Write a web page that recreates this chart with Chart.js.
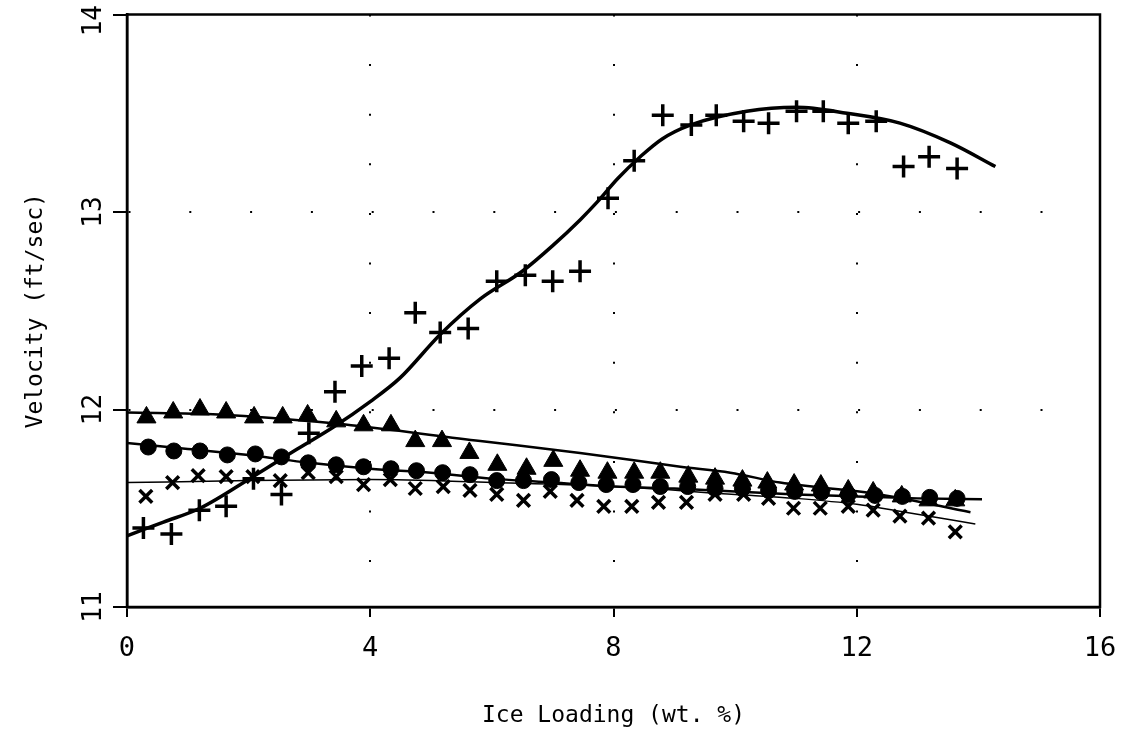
<!DOCTYPE html>
<html>
<head>
<meta charset="utf-8">
<script src="https://cdn.jsdelivr.net/npm/chart.js@4.4.1/dist/chart.umd.min.js"></script>
<style>
  html, body { margin: 0; padding: 0; background: #fff; }
  canvas { display: block; }
</style>
</head>
<body>
<canvas id="chart" width="1121" height="747"></canvas>
<script>
// Velocity vs ice loading: four measured series with fitted curves.

const xTickValues = [0, 4, 8, 12, 16];
const yTickValues = [11, 12, 13, 14];

// "+" series
const plusX = [0.27, 0.73, 1.19, 1.63, 2.08, 2.54, 2.99, 3.42, 3.86, 4.31, 4.74, 5.15, 5.61, 6.08, 6.55, 7.00,
  7.45, 7.91, 8.34, 8.81, 9.28, 9.69, 10.14, 10.55, 11.01, 11.45, 11.86, 12.32, 12.77, 13.19, 13.65];
const plusY = [11.40, 11.37, 11.49, 11.51, 11.65, 11.57, 11.88, 12.09, 12.22, 12.26, 12.49, 12.39, 12.41, 12.65, 12.68, 12.65,
  12.70, 13.07, 13.26, 13.49, 13.44, 13.49, 13.46, 13.45, 13.51, 13.51, 13.45, 13.46, 13.23, 13.28, 13.22];

// triangle series
const triX = [0.32, 0.76, 1.20, 1.63, 2.09, 2.56, 2.97, 3.44, 3.89, 4.34, 4.74, 5.18, 5.63, 6.09, 6.57, 7.01,
  7.45, 7.90, 8.34, 8.77, 9.23, 9.67, 10.12, 10.53, 10.97, 11.41, 11.86, 12.27, 12.74, 13.18, 13.62];
const triY = [11.96, 11.985, 12.00, 11.985, 11.96, 11.96, 11.97, 11.94, 11.92, 11.92, 11.84, 11.84, 11.78, 11.72, 11.70, 11.74,
  11.69, 11.68, 11.68, 11.68, 11.66, 11.65, 11.64, 11.63, 11.62, 11.615, 11.59, 11.58, 11.56, 11.54, 11.54];

// circle series
const circX = [0.35, 0.77, 1.20, 1.65, 2.11, 2.54, 2.98, 3.44, 3.89, 4.34, 4.76, 5.19, 5.64, 6.08, 6.52, 6.98,
  7.43, 7.88, 8.32, 8.77, 9.22, 9.67, 10.12, 10.55, 10.98, 11.42, 11.86, 12.30, 12.75, 13.20, 13.65];
const circY = [11.81, 11.79, 11.79, 11.77, 11.775, 11.76, 11.73, 11.72, 11.71, 11.70, 11.69, 11.68, 11.67, 11.64, 11.64, 11.645,
  11.63, 11.62, 11.62, 11.61, 11.61, 11.60, 11.60, 11.59, 11.585, 11.58, 11.57, 11.565, 11.56, 11.555, 11.55];

// "x" series
const crossX = [0.31, 0.75, 1.17, 1.63, 2.07, 2.52, 2.98, 3.44, 3.89, 4.33, 4.74, 5.20, 5.64, 6.08, 6.52, 6.96,
  7.40, 7.84, 8.30, 8.74, 9.20, 9.67, 10.14, 10.55, 10.96, 11.40, 11.86, 12.27, 12.71, 13.18, 13.62];
const crossY = [11.56, 11.63, 11.665, 11.66, 11.66, 11.64, 11.68, 11.66, 11.62, 11.645, 11.60, 11.61, 11.59, 11.57, 11.54, 11.585,
  11.54, 11.51, 11.51, 11.53, 11.53, 11.57, 11.57, 11.55, 11.50, 11.50, 11.51, 11.49, 11.46, 11.45, 11.38];

// fitted curves
const plusFitX = [0, 0.6, 1.2, 2.07, 2.8, 3.39, 4.0, 4.49, 5.15, 5.81, 6.5, 7.0, 7.45, 7.73, 8.07, 8.44,
  8.8, 9.26, 10.19, 11.01, 11.84, 12.71, 13.54, 14.28];
const plusFitY = [11.36, 11.43, 11.50, 11.66, 11.80, 11.91, 12.04, 12.16, 12.38, 12.56, 12.70, 12.83, 12.96, 13.05, 13.17, 13.28,
  13.37, 13.44, 13.51, 13.53, 13.50, 13.45, 13.35, 13.23];

const triFitX = [0, 1.5, 3.39, 5.81, 7.45, 9.10, 9.92, 10.74, 12.38, 13.87];
const triFitY = [11.985, 11.975, 11.93, 11.84, 11.78, 11.71, 11.68, 11.63, 11.57, 11.48];

const circFitX = [0, 1, 2, 3, 4, 5, 6, 7, 8, 9, 10, 11, 12, 13, 14.06];
const circFitY = [11.83, 11.80, 11.77, 11.73, 11.70, 11.68, 11.65, 11.63, 11.61, 11.60, 11.585, 11.57, 11.56, 11.55, 11.545];

const crossFitX = [0, 2, 4, 6, 8, 10, 11, 12, 12.8, 13.95];
const crossFitY = [11.63, 11.64, 11.645, 11.63, 11.61, 11.57, 11.55, 11.52, 11.48, 11.42];

const MONO = '"DejaVu Sans Mono", "Liberation Mono", monospace';
const INK = '#000';
const NONE = 'rgba(0,0,0,0)';

const pts = (xs, ys) => xs.map((x, i) => ({ x, y: ys[i] }));

function markers(xs, ys, style, radius, width) {
  return {
    type: 'scatter',
    data: pts(xs, ys),
    showLine: false,
    pointStyle: style,
    pointRadius: radius,
    pointBorderWidth: width,
    pointBorderColor: INK,
    pointBackgroundColor: INK,
  };
}

function curve(xs, ys, width) {
  return {
    type: 'line',
    data: pts(xs, ys),
    borderColor: INK,
    borderWidth: width,
    pointRadius: 0,
    fill: false,
    cubicInterpolationMode: 'monotone',
  };
}

// Closes the plot box and draws the rotated y tick labels (kept inside the canvas)
const frameAndLabels = {
  id: 'frameAndLabels',
  afterDraw(chart) {
    const { ctx, chartArea: a, scales: { y } } = chart;
    ctx.save();
    ctx.strokeStyle = INK;
    ctx.lineWidth = 2.5;
    ctx.strokeRect(a.left, a.top, a.right - a.left, a.bottom - a.top);
    ctx.font = '26px ' + MONO;
    ctx.fillStyle = INK;
    ctx.textAlign = 'center';
    ctx.textBaseline = 'middle';
    y.ticks.forEach(t => {
      const w = ctx.measureText(t.label).width;
      const py = Math.max(y.getPixelForValue(t.value), w / 2 + 5);
      ctx.save();
      ctx.translate(a.left - 33, py);
      ctx.rotate(-Math.PI / 2);
      ctx.fillText(t.label, 0, 0);
      ctx.restore();
    });
    ctx.restore();
  },
};

new Chart(document.getElementById('chart'), {
  data: {
    datasets: [
      markers(plusX, plusY, 'cross', 11, 3.5),
      markers(circX, circY, 'circle', 8, 1),
      markers(triX, triY, 'triangle', 11, 1),
      markers(crossX, crossY, 'crossRot', 9, 3.5),
      curve(plusFitX, plusFitY, 3.5),
      curve(triFitX, triFitY, 2.5),
      curve(circFitX, circFitY, 2.5),
      curve(crossFitX, crossFitY, 1.5),
    ],
  },
  options: {
    responsive: false,
    animation: false,
    devicePixelRatio: 1,
    layout: { padding: { top: 12, right: 21, left: 0, bottom: 0 } },
    plugins: { legend: { display: false }, tooltip: { enabled: false } },
    scales: {
      x: {
        type: 'linear',
        min: 0,
        max: 16,
        afterBuildTicks: s => { s.ticks = xTickValues.map(v => ({ value: v })); },
        afterFit: s => { s.height = 140; s.paddingLeft = 0; s.paddingRight = 0; },
        ticks: { color: INK, font: { family: MONO, size: 27 }, padding: 16, maxRotation: 0 },
        grid: {
          color: c => (c.tick && (c.tick.value === 0 || c.tick.value === 16)) ? NONE : INK,
          lineWidth: 2,
          tickLength: 10,
          tickColor: INK,
          tickWidth: 2,
        },
        border: { display: true, color: INK, width: 2.5, dash: [2, 47.6] },
        title: {
          display: true,
          text: 'Ice Loading (wt. %)',
          color: INK,
          font: { family: MONO, size: 23 },
          padding: { top: 0, bottom: 17 },
        },
      },
      y: {
        type: 'linear',
        min: 11,
        max: 14,
        afterBuildTicks: s => { s.ticks = yTickValues.map(v => ({ value: v })); },
        afterFit: s => { s.width = 127; s.paddingTop = 0; s.paddingBottom = 0; },
        ticks: { display: false },
        grid: {
          color: c => (c.tick && (c.tick.value === 11 || c.tick.value === 14)) ? NONE : INK,
          lineWidth: 2,
          tickLength: 14,
          tickColor: INK,
          tickWidth: 2,
        },
        border: { display: true, color: INK, width: 2.5, dash: [2, 58.8] },
        title: {
          display: true,
          text: 'Velocity (ft/sec)',
          color: INK,
          font: { family: MONO, size: 23 },
          padding: { top: 22, bottom: 0 },
        },
      },
    },
  },
  plugins: [frameAndLabels],
});
</script>
</body>
</html>
